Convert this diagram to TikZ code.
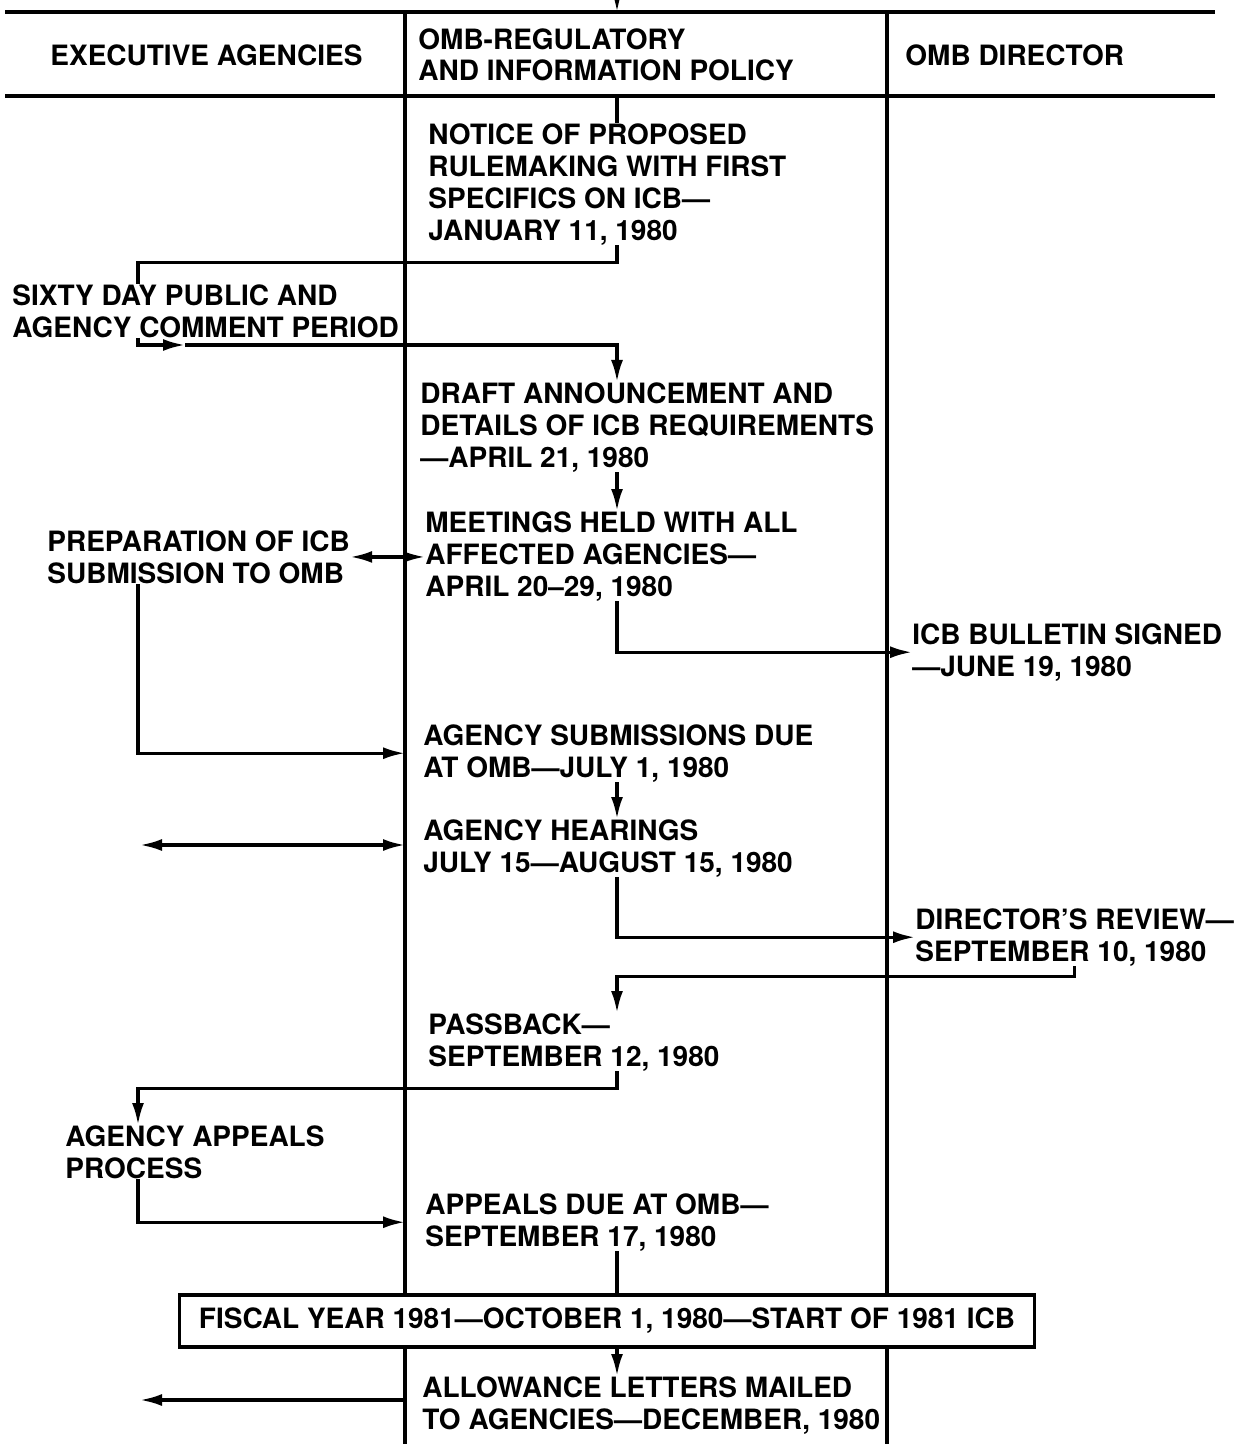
\documentclass[tikz,border=0pt]{standalone}
\usepackage{fontspec}
\setmainfont{TeX Gyre Heros}
\usepackage{tikz}
\usetikzlibrary{shapes,arrows.meta}
\tikzstyle{head} = [anchor=west, inner sep=0pt, align=left, font=\bfseries\fontsize{14}{15.5}\selectfont]
\tikzstyle{event} = [anchor=north west, inner sep=0pt, align=left, font=\bfseries\fontsize{14}{16}\selectfont]
\tikzstyle{banner} = [rectangle, draw, line width=1.6pt, minimum width=427.5pt, minimum height=26pt, inner sep=0pt, font=\bfseries\fontsize{14}{16}\selectfont]
\tikzstyle{line} = [draw, line width=1.6pt, -{Latex[length=11pt,width=6pt]}]
\tikzstyle{twoway} = [draw, line width=1.6pt, {Latex[length=11pt,width=6pt]}-{Latex[length=11pt,width=6pt]}]
\tikzstyle{plain} = [draw, line width=1.6pt]
\tikzstyle{rule} = [draw, line width=2pt]
\tikzstyle{lane} = [draw, line width=1.6pt]

\begin{document}
\begin{tikzpicture}[x=0.5pt, y=-0.5pt]
    \useasboundingbox (0,0) rectangle (1242,1444);
    \coordinate (spine) at (617,0);
    \coordinate (agcol) at (138,0);
    \coordinate (lane1) at (405,0);
    \coordinate (lane2) at (887,0);

    \node [head] (h_exec) at (50,55) {EXECUTIVE AGENCIES};
    \node [head] (h_oira) at (418,55) {OMB-REGULATORY\\AND INFORMATION POLICY};
    \node [head] (h_dir) at (905,55) {OMB DIRECTOR};

    \node [event] (nprm) at (428,123) {NOTICE OF PROPOSED\\RULEMAKING WITH FIRST\\SPECIFICS ON ICB—\\JANUARY 11, 1980};
    \node [event] (sixty) at (12,284) {SIXTY DAY PUBLIC AND\\AGENCY COMMENT PERIOD};
    \node [event] (draft) at (420,382) {DRAFT ANNOUNCEMENT AND\\DETAILS OF ICB REQUIREMENTS\\—APRIL 21, 1980};
    \node [event] (meet) at (425,511) {MEETINGS HELD WITH ALL\\AFFECTED AGENCIES—\\APRIL 20–29, 1980};
    \node [event] (prep) at (47,530) {PREPARATION OF ICB\\SUBMISSION TO OMB};
    \node [event] (bulletin) at (912,623) {ICB BULLETIN SIGNED\\—JUNE 19, 1980};
    \node [event] (due) at (423,724) {AGENCY SUBMISSIONS DUE\\AT OMB—JULY 1, 1980};
    \node [event] (hear) at (423,819) {AGENCY HEARINGS\\JULY 15—AUGUST 15, 1980};
    \node [event] (review) at (915,908) {DIRECTOR'S REVIEW—\\SEPTEMBER 10, 1980};
    \node [event] (passback) at (428,1013) {PASSBACK—\\SEPTEMBER 12, 1980};
    \node [event] (appeals) at (65,1125) {AGENCY APPEALS\\PROCESS};
    \node [event] (appdue) at (425,1193) {APPEALS DUE AT OMB—\\SEPTEMBER 17, 1980};
    \node [banner] (fy81) at (607,1321) {FISCAL YEAR 1981—OCTOBER 1, 1980—START OF 1981 ICB};
    \node [event] (allow) at (422,1376) {ALLOWANCE LETTERS MAILED\\TO AGENCIES—DECEMBER, 1980};

    \path [rule] (5,12) -- (1215,12);
    \path [rule] (5,96) -- (1215,96);
    \path [lane] (405,12) -- (lane1 |- fy81.north);
    \path [lane] (lane1 |- fy81.south) -- (405,1444);
    \path [lane] (887,12) -- (lane2 |- fy81.north);
    \path [lane] (lane2 |- fy81.south) -- (887,1444);

    \coordinate (feed) at (617,0);
    \coordinate (hdrfoot) at (617,96);
    \coordinate (cmt) at (185,345);
    \coordinate (hearfree) at (140,845);
    \coordinate (allowfree) at (140,1400);

    \path [line] (feed) -- ++(0,12);
    \path [plain] (hdrfoot) -- (nprm.north -| spine);
    \path [plain] (nprm.south -| spine) -- ++(0,17) -| (sixty.north -| agcol);
    \path [line] (sixty.south -| agcol) |- (cmt);
    \path [line] (cmt) -| (draft.north -| spine);
    \path [line] (draft.south -| spine) -- (meet.north -| spine);
    \path [twoway] (prep.east) -- (prep.east -| meet.west);
    \path [line] (meet.south -| spine) |- (bulletin.west);
    \path [line] (prep.south -| agcol) |- (due.west -| lane1);
    \path [line] (due.south -| spine) -- (hear.north -| spine);
    \path [twoway] (hearfree) -- (hearfree -| lane1);
    \path [line] (hear.south -| spine) |- (review.west);
    \path [line] (review.south) -- ++(0,10) -| (passback.north -| spine);
    \path [line] (passback.south -| spine) -- ++(0,17) -| (appeals.north -| agcol);
    \path [line] (appeals.south -| agcol) |- (appdue.west -| lane1);
    \path [plain] (appdue.south -| spine) -- (fy81.north -| spine);
    \path [line] (fy81.south -| spine) -- (allow.north -| spine);
    \path [line] (allowfree -| lane1) -- (allowfree);
\end{tikzpicture}
\end{document}
